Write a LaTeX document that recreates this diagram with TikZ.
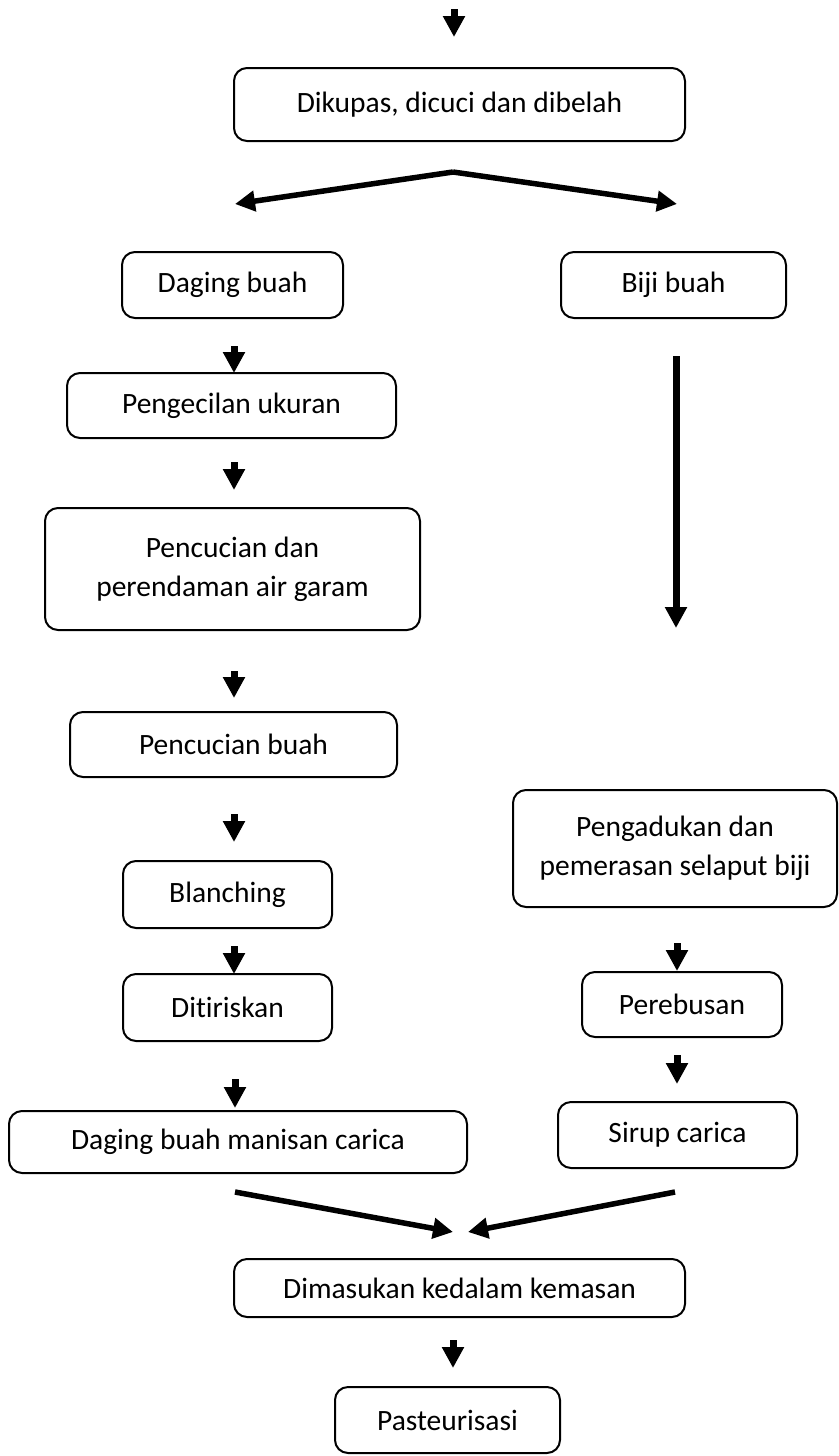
\documentclass[tikz,border=0pt]{standalone}
\usepackage{fontspec}
\setmainfont[Ligatures=NoCommon]{Carlito}
\usetikzlibrary{arrows.meta}
\tikzset{
  box/.style={draw=black, line width=2pt, rounded corners=13pt, inner sep=0pt, align=center,
    font=\fontsize{29.5}{39}\selectfont},
  arr/.style={line width=7pt, -{Triangle[width=21pt,length=21pt]}},
  varr/.style={line width=5.5pt, -{Triangle[width=20pt,length=20pt]}},
}
\begin{document}
\begin{tikzpicture}[x=1pt,y=-1pt]
\useasboundingbox (0,0) rectangle (838,1456);
% boxes
\node[box, minimum width=451pt, minimum height=73pt] (b1) at (459.5,104.5) {Dikupas, dicuci dan dibelah};
\node[box, minimum width=221pt, minimum height=66pt] (b2) at (232.5,285) {Daging buah};
\node[box, minimum width=225pt, minimum height=66pt] (b3) at (673.5,285) {Biji buah};
\node[box, minimum width=329pt, minimum height=65pt] (b4) at (231.5,405.5) {Pengecilan ukuran};
\node[box, minimum width=375pt, minimum height=122pt] (b5) at (232.5,569) {Pencucian dan\\perendaman air garam};
\node[box, minimum width=327pt, minimum height=65pt] (b6) at (233.5,744.5) {Pencucian buah};
\node[box, minimum width=209pt, minimum height=67pt] (b7) at (227.5,894.5) {Blanching};
\node[box, minimum width=209pt, minimum height=67pt] (b8) at (227.5,1007.5) {Ditiriskan};
\node[box, minimum width=458pt, minimum height=62pt] (b9) at (238,1142) {Daging buah manisan carica};
\node[box, minimum width=324pt, minimum height=117pt] (b10) at (675,848.5) {Pengadukan dan\\pemerasan selaput biji};
\node[box, minimum width=200pt, minimum height=65pt] (b11) at (682,1004.5) {Perebusan};
\node[box, minimum width=239pt, minimum height=66pt] (b12) at (677.5,1135) {Sirup carica};
\node[box, minimum width=451pt, minimum height=58pt] (b13) at (459.5,1288) {Dimasukan kedalam kemasan};
\node[box, minimum width=225pt, minimum height=66pt] (b14) at (447.5,1420) {Pasteurisasi};
% arrow end points
\coordinate (t0) at (454,9);   \coordinate (t1) at (454,37);
\coordinate (v0) at (453,172); \coordinate (vl) at (235,204); \coordinate (vr) at (677,204);
\coordinate (a1) at (234,346); \coordinate (a1e) at (234,373);
\coordinate (a2) at (234,462); \coordinate (a2e) at (234,490);
\coordinate (a3) at (234,671); \coordinate (a3e) at (234,698);
\coordinate (a4) at (234,814); \coordinate (a4e) at (234,842);
\coordinate (a5) at (234,946); \coordinate (a5e) at (234,974);
\coordinate (a6) at (235,1079); \coordinate (a6e) at (235,1108);
\coordinate (r1) at (676,356); \coordinate (r1e) at (676,628);
\coordinate (r2) at (677,943); \coordinate (r2e) at (677,971);
\coordinate (r3) at (677,1055); \coordinate (r3e) at (677,1084);
\coordinate (c1) at (235,1192); \coordinate (c1e) at (453,1232);
\coordinate (c2) at (675,1192); \coordinate (c2e) at (468,1232);
\coordinate (p1) at (453,1340); \coordinate (p1e) at (453,1368);
% arrows
\draw[arr] (t0) -- (t1);
\draw[varr] (v0) -- (vl);
\draw[varr] (v0) -- (vr);
\draw[arr] (a1) -- (a1e);
\draw[arr] (a2) -- (a2e);
\draw[arr] (a3) -- (a3e);
\draw[arr] (a4) -- (a4e);
\draw[arr] (a5) -- (a5e);
\draw[arr] (a6) -- (a6e);
\draw[arr] (r1) -- (r1e);
\draw[arr] (r2) -- (r2e);
\draw[arr] (r3) -- (r3e);
\draw[varr] (c1) -- (c1e);
\draw[varr] (c2) -- (c2e);
\draw[arr] (p1) -- (p1e);
\end{tikzpicture}
\end{document}
